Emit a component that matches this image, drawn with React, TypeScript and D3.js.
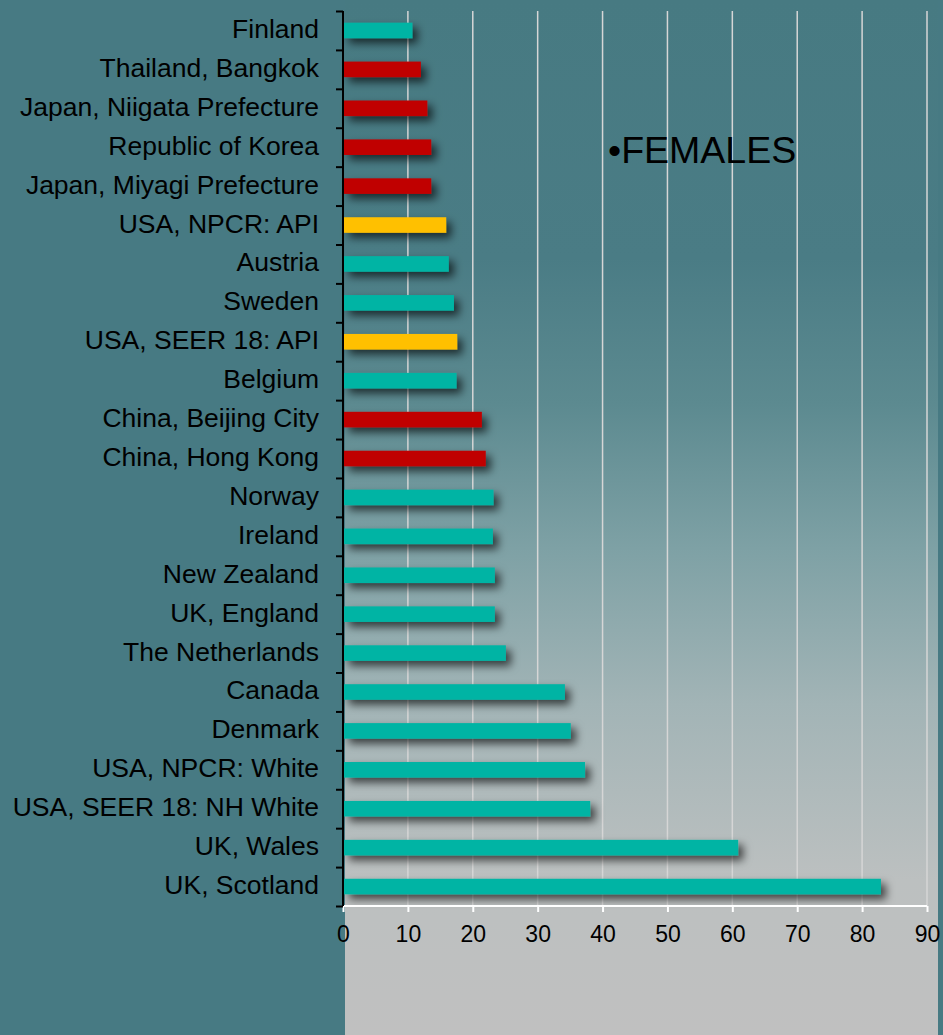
import React, { useEffect, useRef } from 'react';
import * as d3 from 'd3';

const categories = [
  'Finland', 'Thailand, Bangkok', 'Japan, Niigata Prefecture', 'Republic of Korea',
  'Japan, Miyagi Prefecture', 'USA, NPCR: API', 'Austria', 'Sweden', 'USA, SEER 18: API',
  'Belgium', 'China, Beijing City', 'China, Hong Kong', 'Norway', 'Ireland', 'New Zealand',
  'UK, England', 'The Netherlands', 'Canada', 'Denmark', 'USA, NPCR: White',
  'USA, SEER 18: NH White', 'UK, Wales', 'UK, Scotland',
];
const values = [
  10.7, 12.0, 13.0, 13.6, 13.6, 15.9, 16.3, 17.1, 17.6, 17.5, 21.4, 22.0,
  23.2, 23.1, 23.4, 23.4, 25.1, 34.2, 35.1, 37.3, 38.1, 60.9, 82.9,
];
// t = teal (western), r = red (asian), y = yellow (US asian/pacific)
const groups = [
  't', 'r', 'r', 'r', 'r', 'y', 't', 't', 'y', 't', 'r', 'r',
  't', 't', 't', 't', 't', 't', 't', 't', 't', 't', 't',
];
const xTicks = [0, 10, 20, 30, 40, 50, 60, 70, 80, 90];

const colorOf: Record<string, string> = { t: '#00b4a4', r: '#c00000', y: '#ffc000' };

const W = 943;
const H = 1035;
const FONT = '"Liberation Sans", Arial, sans-serif';

const App: React.FC = () => {
  const svgRef = useRef<SVGSVGElement>(null);

  useEffect(() => {
    if (!svgRef.current) return;
    const svg = d3.select(svgRef.current);
    svg.selectAll('*').remove();

    const left = 343, right = 927, top = 11, bottom = 906;

    const x = d3.scaleLinear().domain([0, 90]).range([left, right]);
    const y = d3.scaleBand<string>().domain(categories).range([top, bottom])
      .paddingInner(0.6).paddingOuter(0.3);
    const yIdx = d3.scaleLinear().domain([0, categories.length]).range([top, bottom]);

    const defs = svg.append('defs');
    const grad = defs.append('linearGradient')
      .attr('id', 'bg').attr('x1', 0).attr('y1', 0).attr('x2', 0).attr('y2', 1);
    [
      [0, '#477a82'], [0.25, '#4a7c85'], [0.39, '#5c8a90'], [0.53, '#7ea1a5'],
      [0.68, '#a2b4b6'], [0.85, '#bcc0c0'], [1, '#c0c0c0'],
    ].forEach(([o, c]) => grad.append('stop').attr('offset', o as number).attr('stop-color', c as string));

    const filt = defs.append('filter').attr('id', 'shadow')
      .attr('x', '-10%').attr('y', '-60%').attr('width', '130%').attr('height', '280%');
    filt.append('feDropShadow')
      .attr('dx', 5).attr('dy', 5).attr('stdDeviation', 4)
      .attr('flood-color', '#000').attr('flood-opacity', 0.65);

    svg.append('rect').attr('width', W).attr('height', H).attr('fill', '#477a83');
    svg.append('rect').attr('x', 345).attr('y', 0).attr('width', 938 - 345).attr('height', H)
      .attr('fill', 'url(#bg)');

    // gridlines
    svg.append('g')
      .selectAll('line')
      .data(xTicks.slice(1))
      .join('line')
      .attr('x1', d => x(d)).attr('x2', d => x(d))
      .attr('y1', top).attr('y2', bottom)
      .attr('stroke', '#d6d6d6').attr('stroke-width', 1.5);

    // bars
    svg.append('g')
      .selectAll('rect')
      .data(categories)
      .join('rect')
      .attr('x', x(0) + 1)
      .attr('y', d => y(d) as number)
      .attr('width', (_, i) => x(values[i]) - x(0) - 1)
      .attr('height', y.bandwidth())
      .attr('fill', (_, i) => colorOf[groups[i]])
      .attr('filter', 'url(#shadow)');

    // x axis
    const xAxis = svg.append('g')
      .attr('transform', `translate(0,${bottom})`)
      .call(d3.axisBottom(x).tickValues(xTicks).tickSize(6).tickPadding(14).tickFormat(d => String(d)));
    xAxis.select('.domain').attr('stroke', '#fff').attr('stroke-width', 2)
      .attr('d', `M${left},0H${right}`);
    xAxis.selectAll('.tick line').attr('stroke', '#fff').attr('stroke-width', 2);
    xAxis.selectAll('.tick text')
      .attr('fill', '#000')
      .style('font-family', FONT)
      .style('font-size', '23px');

    // y axis with boundary ticks
    const yAxis = svg.append('g')
      .attr('transform', `translate(${left},0)`)
      .call(d3.axisLeft(yIdx).tickValues(d3.range(categories.length + 1)).tickSize(7).tickFormat(() => ''));
    yAxis.select('.domain').attr('stroke', '#000').attr('stroke-width', 2)
      .attr('d', `M0,${top}V${bottom}`);
    yAxis.selectAll('.tick line').attr('stroke', '#000').attr('stroke-width', 2);

    // category labels
    svg.append('g')
      .selectAll('text')
      .data(categories)
      .join('text')
      .attr('x', 319)
      .attr('y', d => (y(d) as number) + y.bandwidth() / 2 + 7.5)
      .attr('text-anchor', 'end')
      .attr('fill', '#000')
      .style('font-family', FONT)
      .style('font-size', '26.5px')
      .text(d => d);

    svg.append('text')
      .attr('x', 608).attr('y', 163)
      .attr('fill', '#000')
      .style('font-family', FONT)
      .style('font-size', '37.5px')
      .text('\u2022FEMALES');
  }, []);

  return (
    <svg ref={svgRef} width={W} height={H}
      style={{ position: 'absolute', left: 0, top: 0, display: 'block' }} />
  );
};

export default App;
